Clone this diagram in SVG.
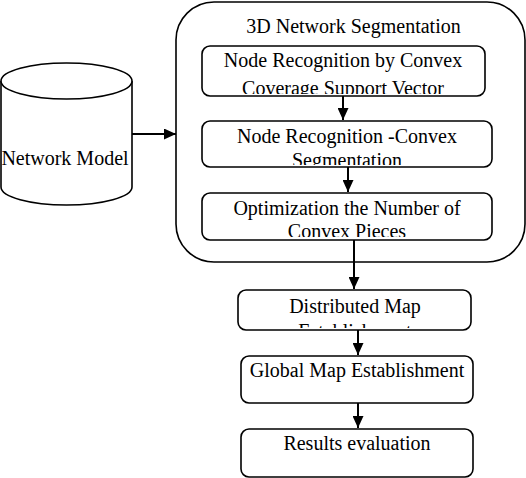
<svg xmlns="http://www.w3.org/2000/svg" width="526" height="478" viewBox="0 0 526 478">
<style>
.box{fill:#fff;stroke:#000;stroke-width:1.6}
.t{font-family:"Liberation Serif","Times New Roman",serif;font-size:20px;fill:#000;text-anchor:middle}
.c{stroke:#000;stroke-width:2;fill:none}
</style>
<defs>
<marker id="ah" viewBox="0 0 12 11" refX="12" refY="5.5" markerWidth="6" markerHeight="5.5" orient="auto" markerUnits="strokeWidth">
<path d="M0,0 L12,5.5 L0,11 z" fill="#000"/>
</marker>
<clipPath id="c1"><rect x="203" y="47" width="281" height="47"/></clipPath>
<clipPath id="c2"><rect x="203" y="122" width="288" height="43"/></clipPath>
<clipPath id="c3"><rect x="203" y="194" width="288" height="43"/></clipPath>
<clipPath id="c4"><rect x="239" y="291" width="231" height="37"/></clipPath>
</defs>
<g id="segmentation">
<rect class="box" x="176" y="2" width="349" height="260" rx="38" ry="38"/>
<text class="t" x="353.5" y="33">3D Network Segmentation</text>
</g>
<g id="network-model">
<path class="box" d="M1,81 L1,187 A65.5,18 0 0 0 132,187 L132,81"/>
<ellipse class="box" cx="66.5" cy="81" rx="65.5" ry="18"/>
<text class="t" x="65" y="165">Network Model</text>
</g>
<g id="node1">
<rect class="box" x="202" y="46" width="283" height="50" rx="8"/>
<g clip-path="url(#c1)">
<text class="t" x="343" y="67">Node Recognition by Convex</text>
<text class="t" x="343" y="95">Coverage Support Vector</text>
</g>
</g>
<g id="node2">
<rect class="box" x="202" y="121" width="290" height="46" rx="8"/>
<g clip-path="url(#c2)">
<text class="t" x="347" y="143">Node Recognition -Convex</text>
<text class="t" x="347" y="167">Segmentation</text>
</g>
</g>
<g id="node3">
<rect class="box" x="202" y="193" width="290" height="47" rx="8"/>
<g clip-path="url(#c3)">
<text class="t" x="347" y="215">Optimization the Number of</text>
<text class="t" x="347" y="238">Convex Pieces</text>
</g>
</g>
<g id="node4">
<rect class="box" x="238" y="290" width="233" height="40" rx="8"/>
<g clip-path="url(#c4)">
<text class="t" x="355" y="313">Distributed Map</text>
<text class="t" x="355" y="338">Establishment</text>
</g>
</g>
<g id="node5">
<rect class="box" x="241" y="356" width="232" height="47" rx="8"/>
<text class="t" x="357" y="377">Global Map Establishment</text>
</g>
<g id="node6">
<rect class="box" x="241" y="429" width="232" height="48" rx="8"/>
<text class="t" x="357" y="450">Results evaluation</text>
</g>
<g id="connectors">
<line class="c" x1="132" y1="134" x2="176" y2="134" marker-end="url(#ah)"/>
<line class="c" x1="343" y1="96" x2="343" y2="120" marker-end="url(#ah)"/>
<line class="c" x1="348" y1="167" x2="348" y2="192" marker-end="url(#ah)"/>
<line class="c" x1="354" y1="240" x2="354" y2="289" marker-end="url(#ah)"/>
<line class="c" x1="358" y1="330" x2="358" y2="355" marker-end="url(#ah)"/>
<line class="c" x1="358" y1="403" x2="358" y2="428" marker-end="url(#ah)"/>
</g>
</svg>
